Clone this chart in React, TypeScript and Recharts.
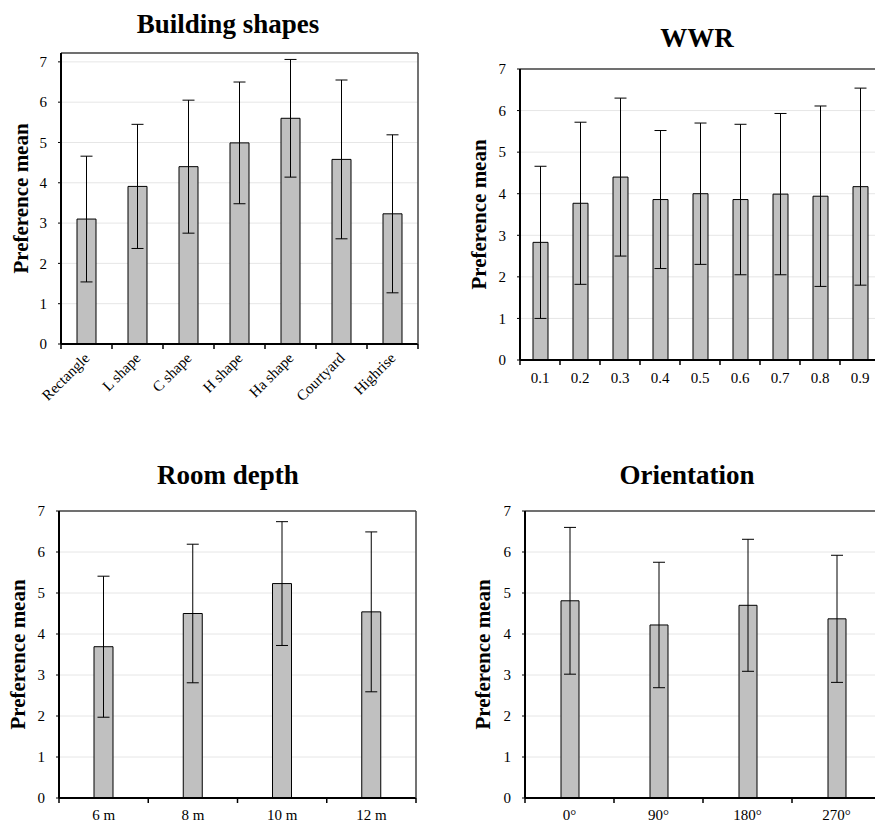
import React from 'react'
import { BarChart, Bar, XAxis, YAxis, CartesianGrid, ErrorBar } from 'recharts'

// values: mean preference and standard deviation
const shapeCategories = ['Rectangle', 'L shape', 'C shape', 'H shape', 'Ha shape', 'Courtyard', 'Highrise']
const shapeMeans = [3.1, 3.91, 4.4, 4.99, 5.6, 4.58, 3.23]
const shapeSd = [1.56, 1.54, 1.65, 1.51, 1.46, 1.97, 1.96]

const wwrCategories = ['0.1', '0.2', '0.3', '0.4', '0.5', '0.6', '0.7', '0.8', '0.9']
const wwrMeans = [2.83, 3.77, 4.4, 3.86, 4.0, 3.86, 3.99, 3.94, 4.17]
const wwrSd = [1.83, 1.95, 1.9, 1.66, 1.7, 1.81, 1.94, 2.17, 2.37]

const depthCategories = ['6 m', '8 m', '10 m', '12 m']
const depthMeans = [3.69, 4.5, 5.23, 4.54]
const depthSd = [1.72, 1.69, 1.51, 1.95]

const orientCategories = ['0°', '90°', '180°', '270°']
const orientMeans = [4.81, 4.22, 4.7, 4.37]
const orientSd = [1.79, 1.53, 1.61, 1.55]

const yTicks = [0, 1, 2, 3, 4, 5, 6, 7]

const FONT = '"Liberation Serif", "Times New Roman", serif'

function buildRows(cats: string[], means: number[], sds: number[]) {
  return cats.map((name, i) => ({ name, mean: means[i], sd: sds[i] }))
}

function XTick(props: any) {
  const { x, y, payload, index, band, count, rotate, fontSize, baseline } = props
  const half = band / 2
  return (
    <g>
      <line x1={x - half} x2={x - half} y1={y} y2={y + 5} stroke="#000" strokeWidth={1.5} />
      {index === count - 1 && <line x1={x + half} x2={x + half} y1={y} y2={y + 5} stroke="#000" strokeWidth={1.5} />}
      {rotate ? (
        <text
          x={x + 4}
          y={y + 15}
          textAnchor="end"
          fontSize={fontSize}
          fontFamily={FONT}
          fill="#000"
          transform={`rotate(-45 ${x + 4} ${y + 15})`}
        >
          {payload.value}
        </text>
      ) : (
        <text x={x} y={y + baseline} textAnchor="middle" fontSize={fontSize} fontFamily={FONT} fill="#000">
          {payload.value}
        </text>
      )}
    </g>
  )
}

type PanelProps = {
  title: string
  cats: string[]
  means: number[]
  sds: number[]
  left: number
  top: number
  width: number
  height: number
  plot: { l: number; t: number; r: number; b: number }
  yMax: number
  barSize: number
  titleX: number
  titleY: number
  labelX: number
  rotate?: boolean
  baseline?: number
}

function Panel(p: PanelProps) {
  const data = buildRows(p.cats, p.means, p.sds)
  const band = (p.plot.r - p.plot.l) / p.cats.length
  const axisW = p.plot.l - p.left
  const xH = p.top + p.height - p.plot.b
  return (
    <>
      <div
        style={{
          position: 'absolute',
          left: p.titleX - 150,
          top: p.titleY - 13.7,
          width: 300,
          textAlign: 'center',
          fontFamily: FONT,
          fontWeight: 'bold',
          fontSize: 27,
          lineHeight: '27px',
          color: '#000',
        }}
      >
        {p.title}
      </div>
      <div style={{ position: 'absolute', left: p.left, top: p.top }}>
        <BarChart
          width={p.width}
          height={p.height}
          data={data}
          margin={{ top: p.plot.t - p.top - 1, right: p.left + p.width - p.plot.r - 1, bottom: 0, left: 0 }}
        >
          <CartesianGrid vertical={false} stroke="#e6e6e6" />
          <XAxis
            dataKey="name"
            height={xH}
            interval={0}
            tickSize={0}
            tickMargin={0}
            axisLine={{ stroke: '#000', strokeWidth: 2 }}
            tick={(t: any) => (
              <XTick {...t} band={band} count={p.cats.length} rotate={p.rotate} fontSize={15} baseline={p.baseline ?? 23} />
            )}
          />
          <XAxis xAxisId="top" dataKey="name" orientation="top" height={1} tick={false} tickLine={false} axisLine={{ stroke: '#444', strokeWidth: 1.5 }} />
          <YAxis
            width={axisW}
            domain={[0, p.yMax]}
            ticks={yTicks}
            allowDataOverflow
            tickSize={3}
            tickMargin={11}
            tickLine={{ stroke: '#000', strokeWidth: 1 }}
            axisLine={{ stroke: '#000', strokeWidth: 2 }}
            tick={{ fontSize: 15, fontFamily: FONT, fill: '#000' }}
            label={{
              value: 'Preference mean',
              angle: -90,
              position: 'insideLeft',
              offset: p.labelX,
              style: { textAnchor: 'middle', fontWeight: 'bold', fontSize: 21, fontFamily: FONT, fill: '#000' },
            }}
          />
          <YAxis yAxisId="right" orientation="right" width={1} domain={[0, p.yMax]} tick={false} tickLine={false} axisLine={{ stroke: '#444', strokeWidth: 1.5 }} />
          <Bar dataKey="mean" fill="#c0c0c0" stroke="#000" strokeWidth={1} barSize={p.barSize} isAnimationActive={false}>
            <ErrorBar dataKey="sd" width={6} stroke="#000" strokeWidth={1} direction="y" isAnimationActive={false} />
          </Bar>
        </BarChart>
      </div>
    </>
  )
}

export default function App() {
  return (
    <div style={{ position: 'fixed', left: 0, top: 0, width: 875, height: 822, overflow: 'hidden', background: '#fff' }}>
      <Panel
        title="Building shapes"
        cats={shapeCategories}
        means={shapeMeans}
        sds={shapeSd}
        left={0}
        top={0}
        width={440}
        height={420}
        plot={{ l: 61, t: 53, r: 418, b: 344 }}
        yMax={7.22}
        barSize={19}
        titleX={228}
        titleY={25}
        labelX={21}
        rotate
      />
      <Panel
        title="WWR"
        cats={wwrCategories}
        means={wwrMeans}
        sds={wwrSd}
        left={440}
        top={0}
        width={445}
        height={420}
        plot={{ l: 520, t: 69, r: 880, b: 360 }}
        yMax={7}
        barSize={15}
        titleX={697}
        titleY={39}
        labelX={39}
        baseline={23}
      />
      <Panel
        title="Room depth"
        cats={depthCategories}
        means={depthMeans}
        sds={depthSd}
        left={0}
        top={420}
        width={440}
        height={402}
        plot={{ l: 59, t: 511, r: 416, b: 798 }}
        yMax={7}
        barSize={19}
        titleX={228}
        titleY={476}
        labelX={18}
        baseline={22}
      />
      <Panel
        title="Orientation"
        cats={orientCategories}
        means={orientMeans}
        sds={orientSd}
        left={440}
        top={420}
        width={445}
        height={402}
        plot={{ l: 525, t: 511, r: 881, b: 798 }}
        yMax={7}
        barSize={18}
        titleX={687}
        titleY={476}
        labelX={43}
        baseline={22}
      />
    </div>
  )
}
